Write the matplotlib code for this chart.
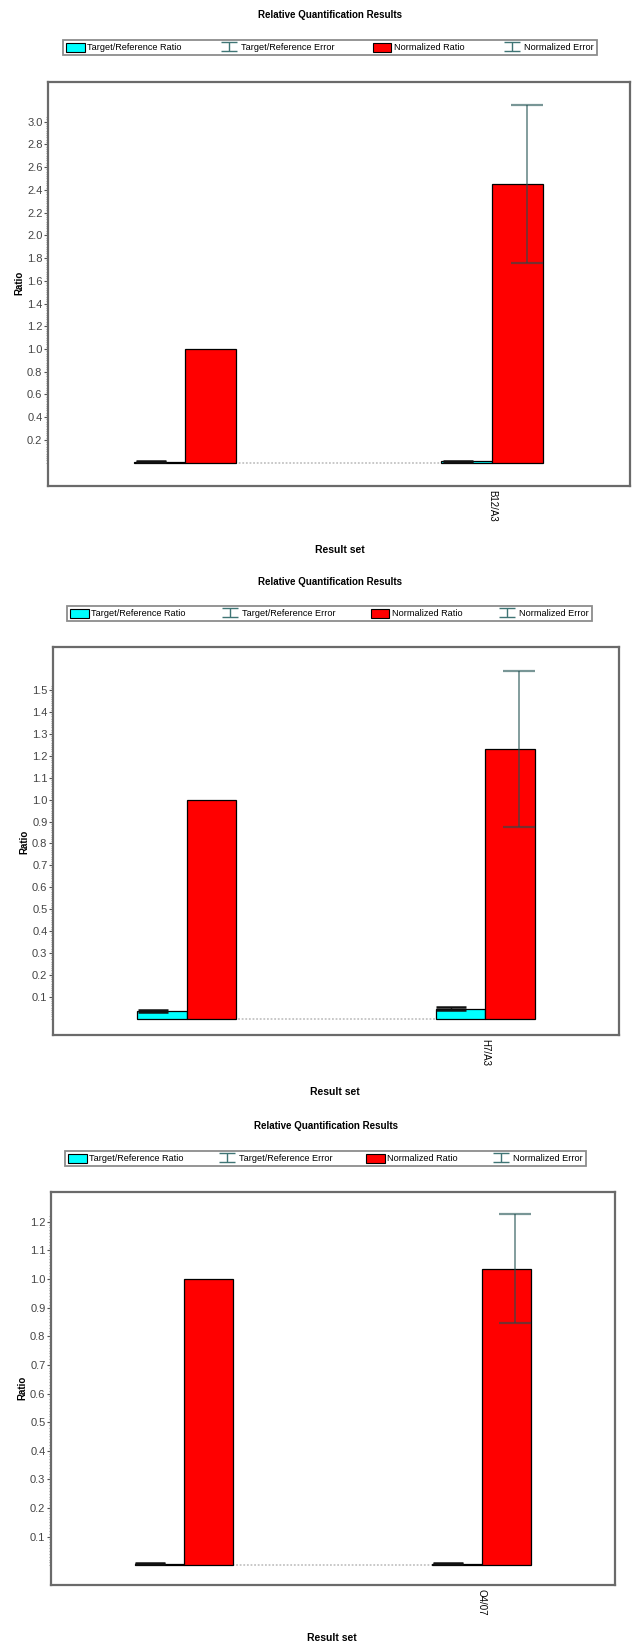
import numpy as np
import matplotlib
matplotlib.use('Agg')
import matplotlib.pyplot as plt
from matplotlib.patches import Patch
from matplotlib.ticker import FixedLocator, FormatStrFormatter
from matplotlib import font_manager

names = {f.name for f in font_manager.fontManager.ttflist}
FONT = 'Liberation Sans Narrow' if 'Liberation Sans Narrow' in names else 'Liberation Sans'
plt.rcParams['font.family'] = [FONT, 'DejaVu Sans']

# data (top to bottom)
labels_1 = ['', 'B12/A3']
tr_ratio_1 = [0.008, 0.012]
tr_error_1 = [0.004, 0.004]
norm_ratio_1 = [1.0, 2.455]
norm_error_1 = [0.0, 0.695]
yticks_1 = [0.2, 0.4, 0.6, 0.8, 1.0, 1.2, 1.4, 1.6, 1.8, 2.0, 2.2, 2.4, 2.6, 2.8, 3.0]

labels_2 = ['', 'H7/A3']
tr_ratio_2 = [0.035, 0.045]
tr_error_2 = [0.004, 0.008]
norm_ratio_2 = [1.0, 1.231]
norm_error_2 = [0.0, 0.358]
yticks_2 = [0.1, 0.2, 0.3, 0.4, 0.5, 0.6, 0.7, 0.8, 0.9, 1.0, 1.1, 1.2, 1.3, 1.4, 1.5]

labels_3 = ['', 'O4/07']
tr_ratio_3 = [0.006, 0.006]
tr_error_3 = [0.003, 0.003]
norm_ratio_3 = [1.0, 1.036]
norm_error_3 = [0.0, 0.19]
yticks_3 = [0.1, 0.2, 0.3, 0.4, 0.5, 0.6, 0.7, 0.8, 0.9, 1.0, 1.1, 1.2]

legend_labels = ['Target/Reference Ratio', 'Target/Reference Error',
                 'Normalized Ratio', 'Normalized Error']

W, H = 635, 1646
BAR_W = 0.166
ERR_SHIFT = 0.03
CYAN = '#00ffff'
RED = '#ff0000'
ERR_COLOR = '#1f5050'
FRAME = '#6a6a6a'

fig = plt.figure(figsize=(W / 100, H / 100), dpi=100)


def fx(px):
    return px / W


def fy(py):
    return 1 - py / H


def draw_panel(frame, legend_box, title_y, ratio_xy, result_xy, ylim, minor_step,
               labels, tr, tr_e, nr, nr_e, yticks):
    l, t, r, b = frame
    ax = fig.add_axes([fx(l), fy(b), (r - l) / W, (b - t) / H])
    x = np.arange(len(labels))
    tr, tr_e, nr, nr_e = map(np.asarray, (tr, tr_e, nr, nr_e))

    ax.hlines(0, x[0] - BAR_W, x[-1] + BAR_W, colors='#c4c4c4',
              linestyles=(0, (1, 1)), lw=1.3, zorder=1)
    ax.bar(x - BAR_W / 2, tr, BAR_W, color=CYAN, edgecolor='black', lw=0.9, zorder=2)
    ax.bar(x + BAR_W / 2, nr, BAR_W, color=RED, edgecolor='black', lw=0.9, zorder=2)

    ax.errorbar(x - BAR_W / 2 - ERR_SHIFT, tr, yerr=tr_e, fmt='none', ecolor='#111111',
                elinewidth=1, capsize=11, capthick=1.8, zorder=3)
    has_err = nr_e > 0
    ax.errorbar(x[has_err] + BAR_W / 2 + ERR_SHIFT, nr[has_err], yerr=nr_e[has_err],
                fmt='none', ecolor=ERR_COLOR, alpha=0.6, elinewidth=1.3,
                capsize=11.5, capthick=1.6, zorder=3)

    ax.set_xlim(-0.447, 1.448)
    ax.set_ylim(*ylim)
    ax.set_xticks(x)
    ax.set_xticklabels(labels, rotation=270, fontsize=7)
    ax.tick_params(axis='x', length=0, pad=3)

    ax.set_yticks(yticks)
    ax.yaxis.set_major_formatter(FormatStrFormatter('%.1f'))
    ax.yaxis.set_minor_locator(FixedLocator(np.arange(0, yticks[-1] + 3 * minor_step, minor_step)))
    ax.tick_params(axis='y', which='major', direction='out', length=3, width=0.8,
                   color='#555555', labelsize=8, pad=1, labelcolor='#444444')
    ax.tick_params(axis='y', which='minor', direction='out', length=1.8, width=0.6,
                   color='#888888')
    for s in ax.spines.values():
        s.set_color(FRAME)
        s.set_linewidth(1.6)

    # legend above the frame
    ll, lt, lr, lb = legend_box
    h_tre = ax.errorbar([np.nan], [np.nan], yerr=[1], fmt='none', ecolor='#3f7575',
                        elinewidth=1, capsize=6, capthick=1)
    h_ne = ax.errorbar([np.nan], [np.nan], yerr=[1], fmt='none', ecolor='#3f7575',
                       elinewidth=1, capsize=6, capthick=1)
    handles = [Patch(facecolor=CYAN, edgecolor='black', lw=0.8), h_tre,
               Patch(facecolor=RED, edgecolor='black', lw=0.8), h_ne]
    leg = fig.legend(handles, legend_labels, loc='center',
                     bbox_to_anchor=(fx(ll), fy(lb), (lr - ll) / W, (lb - lt) / H),
                     mode='expand', ncol=4, fancybox=False, fontsize=6.6,
                     handlelength=2.0, handleheight=1.1, handletextpad=0.3,
                     borderaxespad=0, borderpad=0.35, columnspacing=0.5)
    leg.get_frame().set_edgecolor('#707070')
    leg.get_frame().set_linewidth(1.3)

    fig.text(fx((ll + lr) / 2), fy(title_y), 'Relative Quantification Results',
             ha='center', va='center', fontsize=7, fontweight='bold')
    fig.text(fx(ratio_xy[0]), fy(ratio_xy[1]), 'Ratio', rotation=90,
             ha='center', va='center', fontsize=7, fontweight='bold')
    fig.text(fx(result_xy[0]), fy(result_xy[1]), 'Result set',
             ha='center', va='center', fontsize=7.5, fontweight='bold')
    return ax


draw_panel((48, 82, 630, 486), (63, 35, 597, 60), 15, (19, 283), (340, 550),
           (-0.205, 3.348), 0.02,
           labels_1, tr_ratio_1, tr_error_1, norm_ratio_1, norm_error_1, yticks_1)
draw_panel((53, 647, 619, 1035), (67, 601, 592, 626), 582, (24, 842), (335, 1092),
           (-0.075, 1.697), 0.01,
           labels_2, tr_ratio_2, tr_error_2, norm_ratio_2, norm_error_2, yticks_2)
draw_panel((51, 1192, 615, 1585), (65, 1146, 586, 1171), 1126, (22, 1388), (332, 1638),
           (-0.069, 1.304), 0.01,
           labels_3, tr_ratio_3, tr_error_3, norm_ratio_3, norm_error_3, yticks_3)

fig.savefig('out.png', dpi=100)
